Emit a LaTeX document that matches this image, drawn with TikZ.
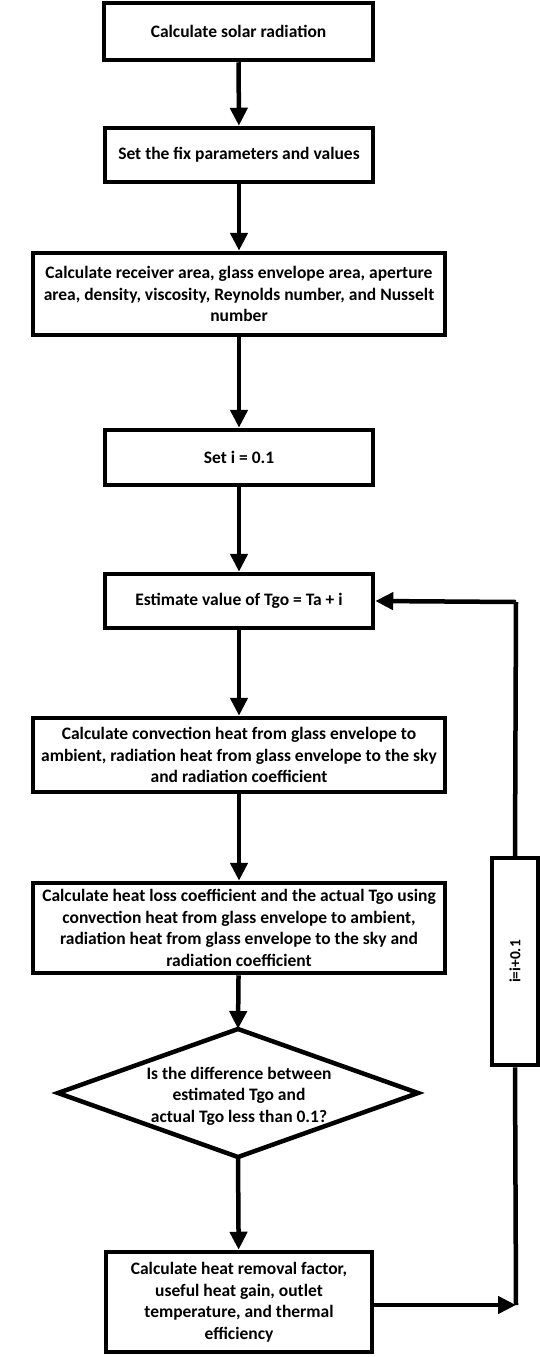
\documentclass[tikz,border=0pt]{standalone}
\usepackage{fontspec}
\setmainfont{Carlito}
\usetikzlibrary{arrows.meta}
\begin{document}
\begin{tikzpicture}[x=1pt,y=-1pt,
  txt/.style={font=\fontsize{17.5}{21.5}\selectfont\bfseries,align=center},
  box/.style={draw,line width=4.5pt,rectangle,inner sep=2pt,txt},
  arr/.style={line width=4.5pt,-{Triangle[length=18pt,width=17pt]}},
  ln/.style={line width=4.5pt}]
\useasboundingbox (0,0) rectangle (540,1357);
\node[box,minimum width=269pt,minimum height=57pt] (b1) at (238.5,31.5) {Calculate solar radiation};
\node[box,minimum width=268pt,minimum height=54pt] (b2) at (239,155) {Set the fix parameters and values};
\node[box,minimum width=412pt,minimum height=82pt] (b3) at (239,294) {Calculate receiver area, glass envelope area, aperture\\area, density, viscosity, Reynolds number, and Nusselt\\number};
\node[box,minimum width=268pt,minimum height=55pt] (b4) at (239,457.5) {Set i = 0.1};
\node[box,minimum width=268pt,minimum height=54pt] (b5) at (239,601) {Estimate value of Tgo = Ta + i};
\node[box,minimum width=412pt,minimum height=74pt] (b6) at (239,755) {Calculate convection heat from glass envelope to\\ambient, radiation heat from glass envelope to the sky\\and radiation coefficient};
\node[box,minimum width=412pt,minimum height=90pt] (b7) at (239,928) {Calculate heat loss coefficient and the actual Tgo using\\convection heat from glass envelope to ambient,\\radiation heat from glass envelope to the sky and\\radiation coefficient};
\coordinate (dN) at (238,1029);
\coordinate (dS) at (238,1157);
\coordinate (dW) at (58,1093);
\coordinate (dE) at (418,1093);
\draw[ln,line join=miter] (dN) -- (dE) -- (dS) -- (dW) -- cycle;
\node[txt] (d) at (239,1096) {Is the difference between\\estimated Tgo and\\actual Tgo less than 0.1?};
\node[box,minimum width=266pt,minimum height=100pt] (b8) at (239,1302) {Calculate heat removal factor,\\useful heat gain, outlet\\temperature, and thermal\\efficiency};
\node[box,minimum width=46pt,minimum height=207pt,inner sep=0pt] (bi) at (515,961.5) {};
\node[rotate=90,font=\fontsize{15.5}{17}\selectfont\bfseries] (ti) at (bi.center) {i=i+0.1};
\coordinate (c1) at (516,602);
\coordinate (c2) at (516,1305);
\draw[arr] (b1) -- (b2);
\draw[arr] (b2) -- (b3);
\draw[arr] (b3) -- (b4);
\draw[arr] (b4) -- (b5);
\draw[arr] (b5) -- (b6);
\draw[arr] (b6) -- (b7);
\draw[arr] (b7) -- (dN);
\draw[arr] (dS) -- (b8);
\draw[arr] (b8.east |- c2) -- (c2);
\draw[ln] (c2) -- (bi.south);
\draw[ln] (bi.north) -- (c1);
\draw[arr] (c1) -- (b5.east);
\end{tikzpicture}
\end{document}
